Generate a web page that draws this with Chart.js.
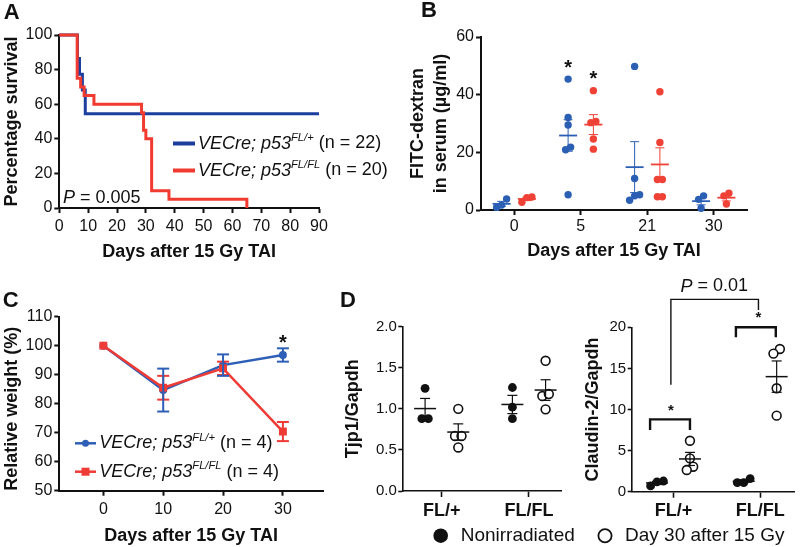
<!DOCTYPE html>
<html>
<head>
<meta charset="utf-8">
<script src="https://cdn.jsdelivr.net/npm/chart.js@4.4.1/dist/chart.umd.min.js"></script>
<style>
html, body { margin: 0; padding: 0; background: #fff; }
#fig { position: relative; width: 800px; height: 547px; overflow: hidden; }
canvas { position: absolute; }
</style>
</head>
<body>
<div id="fig">
<canvas id="cA" width="400" height="270" style="left:0;top:0;width:400px;height:270px"></canvas>
<canvas id="cB" width="400" height="270" style="left:400px;top:0;width:400px;height:270px"></canvas>
<canvas id="cC" width="330" height="277" style="left:0;top:270px;width:330px;height:277px"></canvas>
<canvas id="cD1" width="470" height="277" style="left:330px;top:270px;width:470px;height:277px"></canvas>
<canvas id="cD2" width="230" height="277" style="left:570px;top:270px;width:230px;height:277px"></canvas>
</div>
<script>
const FAM = "'Liberation Sans', Arial, Helvetica, sans-serif";
const INK = "#111111";

// ---- A: survival ----
const survDaysFl = [0, 6.3, 7, 8, 9, 90];
const survPctFl = [100, 86.4, 77.3, 68.2, 54.5, 54.5];
const survDaysFlFl = [0, 6.2, 7.4, 8.6, 12, 28.5, 29.2, 30, 32, 38, 65];
const survPctFlFl = [100, 75, 70, 65, 60, 55, 45, 40, 10, 5, 0];
const survDayTicks = [0, 10, 20, 30, 40, 50, 60, 70, 80, 90];
const survPctTicks = [0, 20, 40, 60, 80, 100];

// ---- B: FITC-dextran, one list per day ----
const fitcDays = ["0", "5", "21", "30"];
const fitcFl = [[0.9, 3.8, 1.7], [45.4, 32.1, 29.5, 21.8, 20.9, 5.3], [49.8, 10.9, 5.3, 4.9, 3.4], [0.6, 3.7, 4.9]];
const fitcFlFl = [[2.7, 4.3, 4.5], [41.4, 30.7, 30.3, 24.6, 21.1], [41, 23.4, 10.6, 10.6, 4.6, 4.6], [2.1, 4.9, 5.8]];
const fitcTicks = [0, 20, 40, 60];
const fitcStarDays = [1];

// ---- C: relative weight ----
const weightDays = [0, 10, 20, 30];
const weightFl = [100, 84.7, 93.3, 96.8];
const weightFlSem = [0, 7.4, 3.7, 2.3];
const weightFlFl = [100, 85.5, 92.2, 70.4];
const weightFlFlSem = [0, 4.1, 2.3, 3.3];
const weightTicks = [50, 60, 70, 80, 90, 100, 110];
const weightStarDays = [30];

// ---- D: qPCR ----
const genotypes = ["FL/+", "FL/FL"];
const tjp1Non = [[1.25, 0.88, 0.88], [1.26, 1.02, 0.88]];
const tjp1Day30 = [[1.0, 0.67, 0.67, 0.53], [1.585, 1.156, 1.18, 0.994]];
const tjp1Ticks = [0, 0.5, 1, 1.5, 2];
const cldn2Non = [[0.7, 1.3, 1.2], [1.1, 1.6, 1.1]];
const cldn2Day30 = [[6.2, 4.06, 3.04, 2.64], [17.36, 16.8, 12.58, 9.25]];
const cldn2Ticks = [0, 5, 10, 15, 20];

Chart.defaults.font.family = FAM;
Chart.defaults.color = INK;

const blueA = "#1c3f9e", redA = "#f23b30";
const blueB = "#2b5fb4", redB = "#ef4236";

function mean(v) {
    return v.reduce(function (a, b) { return a + b; }, 0) / v.length;
}
function sem(v) {
    const m = mean(v);
    const ss = v.reduce(function (a, b) { return a + (b - m) * (b - m); }, 0);
    return Math.sqrt(ss / (v.length - 1)) / Math.sqrt(v.length);
}

// spread points that would overlap sideways, centred on the group position
function swarm(values, center, pxX, pxY, diam, gap) {
    const idx = values.map(function (v, i) { return i; }).sort(function (a, b) { return values[a] - values[b]; });
    const xs = new Array(values.length);
    let cluster = [idx[0]];
    function flush() {
        cluster.forEach(function (k, j) {
            xs[k] = center + ((j - (cluster.length - 1) / 2) * gap) / pxX;
        });
    }
    for (let j = 1; j < idx.length; j++) {
        if ((values[idx[j]] - values[idx[j - 1]]) * pxY < diam) cluster.push(idx[j]);
        else { flush(); cluster = [idx[j]]; }
    }
    flush();
    return xs;
}

function drawRich(ctx, x, y, parts, size) {
    ctx.save();
    ctx.textBaseline = "middle";
    ctx.textAlign = "left";
    ctx.fillStyle = INK;
    parts.forEach(function (p) {
        const s = p.sup ? size * 0.62 : size;
        ctx.font = (p.italic ? "italic " : "") + (p.bold ? "bold " : "") + s + "px " + FAM;
        ctx.fillText(p.t, x, y + (p.sup ? -size * 0.3 : 0));
        x += ctx.measureText(p.t).width;
    });
    ctx.restore();
    return x;
}

function genoLabel(sup, n) {
    return [{ t: "VECre; p53", italic: true }, { t: sup, italic: true, sup: true }, { t: " (n = " + n + ")" }];
}

function letter(id, ch, x, y) {
    return {
        id: id,
        afterDraw: function (chart) {
            const ctx = chart.ctx;
            ctx.save();
            ctx.font = "bold 22px " + FAM;
            ctx.fillStyle = INK;
            ctx.textBaseline = "middle";
            ctx.textAlign = "center";
            ctx.fillText(ch, x, y);
            ctx.restore();
        },
    };
}

function axis(o) {
    return {
        type: "linear",
        min: o.min,
        max: o.max,
        afterBuildTicks: function (s) {
            s.ticks = o.ticks.map(function (v) { return { value: v }; });
        },
        grid: { display: true, drawOnChartArea: false, drawTicks: true, tickLength: o.tickLen, tickWidth: o.lw, tickColor: INK },
        border: { display: true, color: INK, width: o.lw },
        ticks: {
            autoSkip: false,
            maxRotation: 0,
            padding: o.pad,
            color: INK,
            font: { size: o.size, weight: o.bold ? "bold" : "normal" },
            callback: function (v, i) {
                if (o.labels) return o.labels[i];
                return o.fmt ? o.fmt(v) : String(v);
            },
        },
        title: {
            display: !!o.title,
            text: o.title || "",
            align: o.titleAlign || "center",
            color: INK,
            font: { size: 18, weight: "bold", lineHeight: o.titleLh || 1.2 },
            padding: o.titlePad || 0,
        },
    };
}

function baseOptions(W, H, area, x, y) {
    x.position = "bottom";
    x.afterFit = function (s) { s.height = H - area.b; };
    y.position = "left";
    y.afterFit = function (s) { s.width = area.l; };
    return {
        responsive: false,
        animation: false,
        events: [],
        layout: { padding: { left: 0, top: area.t, right: W - area.r, bottom: 0 } },
        plugins: { legend: { display: false }, tooltip: { enabled: false } },
        scales: { x: x, y: y },
    };
}

function seg(ctx, x0, y0, x1, y1) {
    ctx.beginPath();
    ctx.moveTo(x0, y0);
    ctx.lineTo(x1, y1);
    ctx.stroke();
}

// mean line + SEM whiskers for raw point groups
function summaryPlugin(id, groups) {
    return {
        id: id,
        afterDatasetsDraw: function (chart) {
            const ctx = chart.ctx, sx = chart.scales.x, sy = chart.scales.y;
            groups.forEach(function (g) {
                const m = mean(g.values), e = sem(g.values);
                const px = sx.getPixelForValue(g.x);
                ctx.save();
                ctx.strokeStyle = g.color;
                ctx.lineWidth = g.barWidth;
                seg(ctx, px, sy.getPixelForValue(m - e), px, sy.getPixelForValue(m + e));
                seg(ctx, px - g.capHalf, sy.getPixelForValue(m - e), px + g.capHalf, sy.getPixelForValue(m - e));
                seg(ctx, px - g.capHalf, sy.getPixelForValue(m + e), px + g.capHalf, sy.getPixelForValue(m + e));
                ctx.lineWidth = g.meanWidth;
                seg(ctx, px - g.meanHalf, sy.getPixelForValue(m), px + g.meanHalf, sy.getPixelForValue(m));
                ctx.restore();
            });
        },
    };
}

// ================= A =================
(function () {
    const W = 400, H = 270, area = { l: 59.3, t: 35, r: 319, b: 208 };
    const legendA = {
        id: "legendA",
        afterDraw: function (chart) {
            const ctx = chart.ctx;
            [[blueA, "FL/+", 22, 143.5], [redA, "FL/FL", 20, 170.5]].forEach(function (r) {
                ctx.save();
                ctx.strokeStyle = r[0];
                ctx.lineWidth = 4;
                seg(ctx, 173, r[3], 195, r[3]);
                ctx.restore();
                drawRich(ctx, 198, r[3], genoLabel(r[1], r[2]), 18);
            });
            drawRich(ctx, 63, 198, [{ t: "P", italic: true }, { t: " = 0.005" }], 18);
        },
    };
    new Chart(document.getElementById("cA"), {
        type: "line",
        data: {
            datasets: [
                {
                    data: survDaysFlFl.map(function (d, i) { return { x: d, y: survPctFlFl[i] }; }),
                    borderColor: redA, borderWidth: 3, stepped: true, pointRadius: 0, clip: false,
                },
                {
                    data: survDaysFl.map(function (d, i) { return { x: d, y: survPctFl[i] }; }),
                    borderColor: blueA, borderWidth: 3, stepped: true, pointRadius: 0, clip: false,
                },
            ],
        },
        options: baseOptions(W, H, area,
            axis({ min: 0, max: 90, ticks: survDayTicks, size: 16, tickLen: 5, pad: 4, lw: 2,
                title: "Days after 15 Gy TAI", titlePad: { top: 0, bottom: H - 252.3 - 10.8 } }),
            axis({ min: 0, max: 100, ticks: survPctTicks, size: 16, tickLen: 5, pad: 2, lw: 2,
                title: "Percentage survival", titlePad: { top: 12.3 - 10.8, bottom: 0 } })),
        plugins: [legendA, letter("letA", "A", 11.7, 12.5)],
    });
})();

// ================= B =================
(function () {
    const W = 400, H = 270, area = { l: 81, t: 37, r: 347, b: 210 };
    const xMin = -0.5, xMax = 3.5, pxX = (area.r - area.l) / (xMax - xMin), pxY = (area.b - area.t) / 60;
    const off = 0.19;
    function points(lists, shift) {
        const out = [];
        lists.forEach(function (vals, d) {
            const xs = swarm(vals, d + shift, pxX, pxY, 7, 5);
            vals.forEach(function (v, k) { out.push({ x: xs[k], y: v }); });
        });
        return out;
    }
    const groups = [];
    fitcFl.forEach(function (v, d) {
        groups.push({ x: d - off, values: v, color: blueB, barWidth: 1, capHalf: 4.5, meanWidth: 1.8, meanHalf: 9 });
    });
    fitcFlFl.forEach(function (v, d) {
        groups.push({ x: d + off, values: v, color: redB, barWidth: 1, capHalf: 4.5, meanWidth: 1.8, meanHalf: 9 });
    });
    const stars = {
        id: "starsB",
        afterDatasetsDraw: function (chart) {
            const ctx = chart.ctx, sx = chart.scales.x, sy = chart.scales.y;
            ctx.save();
            ctx.font = "bold 20px " + FAM;
            ctx.fillStyle = INK;
            ctx.textAlign = "center";
            ctx.textBaseline = "middle";
            fitcStarDays.forEach(function (d) {
                [[fitcFl[d], d - off], [fitcFlFl[d], d + off]].forEach(function (g) {
                    ctx.fillText("*", sx.getPixelForValue(g[1]), sy.getPixelForValue(Math.max.apply(null, g[0])) - 11);
                });
            });
            ctx.restore();
        },
    };
    new Chart(document.getElementById("cB"), {
        type: "scatter",
        data: {
            datasets: [
                { data: points(fitcFl, -off), backgroundColor: blueB, pointRadius: 3.7, borderWidth: 0, clip: false },
                { data: points(fitcFlFl, off), backgroundColor: redB, pointRadius: 3.7, borderWidth: 0, clip: false },
            ],
        },
        options: baseOptions(W, H, area,
            axis({ min: xMin, max: xMax, ticks: [0, 1, 2, 3], labels: fitcDays, size: 16, tickLen: 5, pad: 2, lw: 2,
                title: "Days after 15 Gy TAI", titlePad: { top: 0, bottom: H - 250.7 - 10.8 } }),
            axis({ min: 0, max: 60, ticks: fitcTicks, size: 16, tickLen: 5, pad: 2, lw: 2,
                title: ["FITC-dextran", "in serum (\u00b5g/ml)"], titleLh: 1.3, titlePad: { top: 18 - 11.7, bottom: 0 } })),
        plugins: [summaryPlugin("sumB", groups), stars, letter("letB", "B", 29, 11)],
    });
})();

// ================= C =================
(function () {
    const W = 330, H = 277, area = { l: 59.3, t: 46.7, r: 323, b: 220.7 };
    const blueC = "#2e5fb7", redC = "#ef3b35";
    const errs = {
        id: "errC",
        afterDatasetsDraw: function (chart) {
            const ctx = chart.ctx, sx = chart.scales.x, sy = chart.scales.y;
            [[weightFlFl, weightFlFlSem, redC], [weightFl, weightFlSem, blueC]].forEach(function (s) {
                ctx.save();
                ctx.strokeStyle = s[2];
                ctx.lineWidth = 2;
                weightDays.forEach(function (d, i) {
                    if (!s[1][i]) return;
                    const px = sx.getPixelForValue(d);
                    const lo = sy.getPixelForValue(s[0][i] - s[1][i]), hi = sy.getPixelForValue(s[0][i] + s[1][i]);
                    seg(ctx, px, lo, px, hi);
                    seg(ctx, px - 6, lo, px + 6, lo);
                    seg(ctx, px - 6, hi, px + 6, hi);
                });
                ctx.restore();
            });
            ctx.save();
            ctx.font = "bold 20px " + FAM;
            ctx.fillStyle = INK;
            ctx.textAlign = "center";
            ctx.textBaseline = "middle";
            weightStarDays.forEach(function (d) {
                const i = weightDays.indexOf(d);
                ctx.fillText("*", sx.getPixelForValue(d), sy.getPixelForValue(weightFl[i] + weightFlSem[i]) - 5);
            });
            ctx.restore();
        },
    };
    const legendC = {
        id: "legendC",
        afterDraw: function (chart) {
            const ctx = chart.ctx;
            [[blueC, "FL/+", 173.3, "circle"], [redC, "FL/FL", 201.7, "rect"]].forEach(function (r) {
                ctx.save();
                ctx.strokeStyle = r[0];
                ctx.fillStyle = r[0];
                ctx.lineWidth = 2.5;
                seg(ctx, 75, r[2], 96, r[2]);
                if (r[3] === "circle") {
                    ctx.beginPath();
                    ctx.arc(85.5, r[2], 3.5, 0, Math.PI * 2);
                    ctx.fill();
                } else {
                    ctx.fillRect(81.5, r[2] - 4, 8, 8);
                }
                ctx.restore();
                drawRich(ctx, 99.3, r[2], genoLabel(r[1], 4), 18);
            });
        },
    };
    new Chart(document.getElementById("cC"), {
        type: "line",
        data: {
            datasets: [
                {
                    data: weightDays.map(function (d, i) { return { x: d, y: weightFlFl[i] }; }),
                    borderColor: redC, backgroundColor: redC, borderWidth: 2.5,
                    pointStyle: "rect", pointRadius: 5.6, pointBorderWidth: 0, clip: false,
                },
                {
                    data: weightDays.map(function (d, i) { return { x: d, y: weightFl[i] }; }),
                    borderColor: blueC, backgroundColor: blueC, borderWidth: 2.5,
                    pointStyle: "circle", pointRadius: 4, pointBorderWidth: 0, clip: false,
                },
            ],
        },
        options: baseOptions(W, H, area,
            axis({ min: -7.36, max: 36.7, ticks: weightDays, size: 16, tickLen: 5, pad: 4, lw: 2,
                title: "Days after 15 Gy TAI", titlePad: { top: 0, bottom: 0 } }),
            axis({ min: 50, max: 110, ticks: weightTicks, size: 16, tickLen: 5, pad: 2, lw: 2,
                title: "Relative weight (%)", titleAlign: "start", titlePad: { top: 12.3 - 10.8, bottom: 0 } })),
        plugins: [errs, legendC, letter("letC", "C", 10.8, 30.5)],
    });
})();

// ================= D =================
function qpcrChart(id, W, area, xMin, xMax, yMax, yTicks, fmt, title, non, day30, extra) {
    const H = 277;
    const pxX = (area.r - area.l) / (xMax - xMin), pxY = (area.b - area.t) / yMax;
    const off = 0.19;
    function points(lists, shift) {
        const out = [];
        lists.forEach(function (vals, g) {
            const xs = swarm(vals, g + shift, pxX, pxY, 8, 6.5);
            vals.forEach(function (v, k) { out.push({ x: xs[k], y: v }); });
        });
        return out;
    }
    const groups = [];
    non.forEach(function (v, g) {
        groups.push({ x: g - off, values: v, color: INK, barWidth: 1.2, capHalf: 5, meanWidth: 1.5, meanHalf: 11 });
    });
    day30.forEach(function (v, g) {
        groups.push({ x: g + off, values: v, color: INK, barWidth: 1.2, capHalf: 5, meanWidth: 1.5, meanHalf: 11 });
    });
    return new Chart(document.getElementById(id), {
        type: "scatter",
        data: {
            datasets: [
                { data: points(non, -off), backgroundColor: INK, pointRadius: 4.4, borderWidth: 0, clip: false },
                { data: points(day30, off), backgroundColor: "#ffffff", borderColor: INK, pointRadius: 4.4, borderWidth: 1.6, clip: false },
            ],
        },
        options: baseOptions(W, H, area,
            axis({ min: xMin, max: xMax, ticks: [0, 1], labels: genotypes, size: 18, bold: true, tickLen: 6, pad: 3, lw: 1.6 }),
            axis({ min: 0, max: yMax, ticks: yTicks, fmt: fmt, size: 15, tickLen: 4, pad: 1.5, lw: 1.6,
                title: title, titlePad: { top: 23.3 - 10.8, bottom: 0 } })),
        plugins: [summaryPlugin("sum" + id, groups)].concat(extra),
    });
}

const legendD = {
    id: "legendD",
    afterDraw: function (chart) {
        const ctx = chart.ctx, y = 265.7;
        ctx.save();
        ctx.fillStyle = INK;
        ctx.beginPath();
        ctx.arc(110.7, y, 7.3, 0, Math.PI * 2);
        ctx.fill();
        ctx.strokeStyle = INK;
        ctx.lineWidth = 1.8;
        ctx.beginPath();
        ctx.arc(275, y, 6.6, 0, Math.PI * 2);
        ctx.stroke();
        ctx.restore();
        drawRich(ctx, 130.7, y, [{ t: "Nonirradiated" }], 19);
        drawRich(ctx, 295, y, [{ t: "Day 30 after 15 Gy" }], 19);
    },
};

const bracketsD = {
    id: "bracketsD",
    afterDraw: function (chart) {
        const ctx = chart.ctx, sx = chart.scales.x, sy = chart.scales.y;
        const X = function (v) { return sx.getPixelForValue(v); }, Y = function (v) { return sy.getPixelForValue(v); };
        ctx.save();
        ctx.strokeStyle = INK;
        ctx.lineJoin = "miter";
        ctx.lineWidth = 2.4;
        [[-0.27, 0.19, 8.8, 7.5], [0.72, 1.18, 20, 18.8]].forEach(function (b) {
            ctx.beginPath();
            ctx.moveTo(X(b[0]), Y(b[3]));
            ctx.lineTo(X(b[0]), Y(b[2]));
            ctx.lineTo(X(b[1]), Y(b[2]));
            ctx.lineTo(X(b[1]), Y(b[3]));
            ctx.stroke();
        });
        ctx.lineWidth = 1.4;
        ctx.beginPath();
        ctx.moveTo(X(-0.03), Y(13));
        ctx.lineTo(X(-0.03), Y(23.4));
        ctx.lineTo(X(0.98), Y(23.4));
        ctx.lineTo(X(0.98), Y(22.1));
        ctx.stroke();
        ctx.font = "bold 15px " + FAM;
        ctx.fillStyle = INK;
        ctx.textAlign = "center";
        ctx.textBaseline = "middle";
        ctx.fillText("*", X(-0.03), Y(8.8) - 9);
        ctx.fillText("*", X(0.98), Y(20) - 9);
        ctx.restore();
        ctx.save();
        ctx.font = "italic 18px " + FAM;
        const w1 = ctx.measureText("P").width;
        ctx.font = "18px " + FAM;
        const w2 = ctx.measureText(" = 0.01").width;
        ctx.restore();
        drawRich(ctx, X(0.47) - (w1 + w2) / 2, 16.5, [{ t: "P", italic: true }, { t: " = 0.01" }], 18);
    },
};

qpcrChart("cD1", 470, { l: 72.3, t: 56.7, r: 231.3, b: 221 }, -0.451, 1.37, 2, tjp1Ticks,
    function (v) { return v.toFixed(1); }, "Tjp1/Gapdh", tjp1Non, tjp1Day30,
    [legendD, letter("letD", "D", 18, 30.5)]);
qpcrChart("cD2", 230, { l: 61.7, t: 57.3, r: 226, b: 221.7 }, -0.482, 1.39, 20, cldn2Ticks,
    function (v) { return String(v); }, "Claudin-2/Gapdh", cldn2Non, cldn2Day30, [bracketsD]);
</script>
</body>
</html>
